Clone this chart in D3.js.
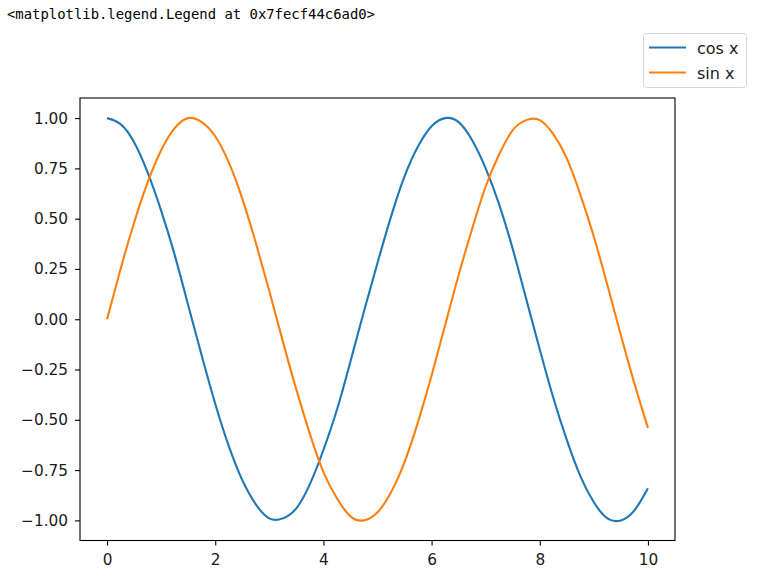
<!DOCTYPE html>
<html><head><meta charset="utf-8">
<script src="https://cdn.jsdelivr.net/npm/d3@7"></script>
<style>body{margin:0;background:#fff}svg{display:block}</style>
</head><body>
<svg id="c" width="759" height="587"></svg>
<script>
const headerText = "<matplotlib.legend.Legend at 0x7fecf44c6ad0>";
const xValues = [0,0.25,0.5,0.75,1,1.25,1.5,1.75,2,2.25,2.5,2.75,3,3.25,3.5,3.75,4,4.25,4.5,4.75,5,5.25,5.5,5.75,6,6.25,6.5,6.75,7,7.25,7.5,7.75,8,8.25,8.5,8.75,9,9.25,9.5,9.75,10];
const cosValues = [1.00,0.97,0.88,0.73,0.54,0.32,0.07,-0.18,-0.42,-0.63,-0.80,-0.92,-0.99,-0.99,-0.94,-0.82,-0.65,-0.45,-0.21,0.04,0.28,0.51,0.71,0.86,0.96,1.00,0.98,0.89,0.75,0.57,0.35,0.10,-0.15,-0.39,-0.60,-0.78,-0.91,-0.99,-1.00,-0.95,-0.84];
const sinValues = [0.00,0.25,0.48,0.68,0.84,0.95,1.00,0.98,0.91,0.78,0.60,0.38,0.14,-0.11,-0.35,-0.57,-0.76,-0.89,-0.98,-1.00,-0.96,-0.86,-0.71,-0.51,-0.28,-0.03,0.22,0.45,0.66,0.82,0.94,0.99,0.99,0.92,0.80,0.62,0.41,0.17,-0.08,-0.32,-0.54];
const seriesNames = ["cos x","sin x"];
const seriesColors = ["#1f77b4","#ff7f0e"];
const xTicks = [0,2,4,6,8,10];
const yTicks = [-1.00,-0.75,-0.50,-0.25,0.00,0.25,0.50,0.75,1.00];

const svg = d3.select("#c");
const plot = {left:80, right:675, top:98, bottom:540.5};
const x = d3.scaleLinear().domain([-0.5,10.5]).range([plot.left, plot.right]);
const y = d3.scaleLinear().domain([-1.1,1.1]).range([plot.bottom, plot.top]);

svg.append("text").attr("x",7).attr("y",19)
  .attr("font-family","'DejaVu Sans Mono', monospace").attr("font-size",13.9).attr("fill","#000")
  .text(headerText);

const font = "'DejaVu Sans', sans-serif";

const series = [cosValues, sinValues];
const line = d3.line().x((d,i)=>x(xValues[i])).y(d=>y(d)).curve(d3.curveNatural);
const g = svg.append("g");
series.forEach((vals,k)=>{
  g.append("path").datum(vals).attr("d",line).attr("fill","none")
   .attr("stroke",seriesColors[k]).attr("stroke-width",2.1).attr("stroke-linejoin","round").attr("stroke-linecap","butt");
});

// axes
const xAxis = d3.axisBottom(x).tickValues(xTicks).tickFormat(d3.format("d")).tickSize(5).tickPadding(8.5);
const yAxis = d3.axisLeft(y).tickValues(yTicks).tickFormat(d=>d3.format(".2f")(d).replace("-","\u2212")).tickSize(5).tickPadding(7);
const gx = svg.append("g").attr("transform",`translate(0,${plot.bottom})`).call(xAxis);
const gy = svg.append("g").attr("transform",`translate(${plot.left},0)`).call(yAxis);
[gx,gy].forEach(a=>{
  a.select(".domain").remove();
  a.selectAll(".tick line").attr("stroke","#000").attr("stroke-width",1.1);
  a.selectAll(".tick text").attr("font-family",font).attr("font-size",15.3).attr("fill","#1a1a1a");
});

// frame
svg.append("rect").attr("x",plot.left).attr("y",plot.top)
  .attr("width",plot.right-plot.left).attr("height",plot.bottom-plot.top)
  .attr("fill","none").attr("stroke","#000").attr("stroke-width",1.1);

// legend
const lg = svg.append("g");
lg.append("rect").attr("x",643.5).attr("y",33.5).attr("width",103).attr("height",54).attr("rx",3)
  .attr("fill","#fff").attr("fill-opacity",0.8).attr("stroke","#d6d6d6").attr("stroke-width",1);
const legY = [47.5, 72.5];
seriesNames.forEach((n,k)=>{
  lg.append("line").attr("x1",649).attr("x2",686).attr("y1",legY[k]).attr("y2",legY[k])
    .attr("stroke",seriesColors[k]).attr("stroke-width",2.1);
  lg.append("text").attr("x",697).attr("y",legY[k]+6.5).attr("font-family",font).attr("font-size",16)
    .attr("fill","#1a1a1a").text(n);
});
</script>
</body></html>
